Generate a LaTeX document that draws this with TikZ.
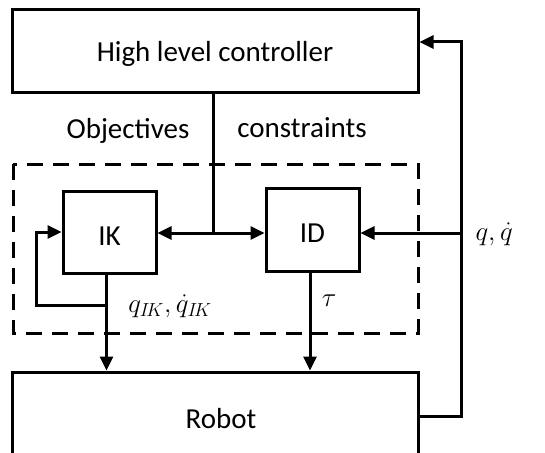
\documentclass[tikz,border=0pt]{standalone}
\usepackage{fix-cm}
\usepackage{fontspec}
\setmainfont{Carlito}
\usetikzlibrary{arrows.meta}
\begin{document}
\begin{tikzpicture}[x=1pt,y=-1pt,
  line width=3pt,
  every node/.style={font=\fontsize{29}{34}\selectfont,text depth=0pt},
  block/.style={draw,line width=3pt,inner sep=0pt},
  arr/.style={-{Triangle[length=14pt,width=13pt]}},
  darr/.style={{Triangle[length=14pt,width=13pt]}-{Triangle[length=14pt,width=13pt]}},
  lbl/.style={inner sep=0pt},
  mathlbl/.style={inner sep=0pt,font=\fontsize{27}{32}\selectfont}]
\useasboundingbox (0,0) rectangle (545,452);
\clip (0,0) rectangle (545,452);

% blocks
\node[block,minimum width=406pt,minimum height=82pt] (hlc) at (215,51) {High level controller};
\node[block,minimum width=93pt,minimum height=82pt,text height=26pt] (ik) at (109.5,232) {IK};
\node[block,minimum width=93pt,minimum height=83pt,text height=24pt] (id) at (312.5,230) {ID};
\node[block,minimum width=406pt,minimum height=88pt] (robot) at (215,416) {};
\node[lbl] (robottext) at (221,418) {Robot};

% dashed group around IK and ID
\draw[dash pattern=on 16pt off 10pt] (13,164) rectangle (418,333);

% labels
\node[lbl] (obj) at (128,128) {Objectives};
\node[lbl] (con) at (302,128) {constraints};
\node[mathlbl,anchor=west] (qin) at (474,232) {$q,\dot q$};
\node[mathlbl] (qik) at (170,304) {$q_{I\!K},\dot q_{I\!K}$};
\node[mathlbl] (tau) at (329,301) {$\tau$};

% objectives/constraints distribution
\coordinate (j) at (213,233);
\draw (j |- hlc.south) -- (j);
\draw[darr] (j -| ik.east) -- (j -| id.west);

% feedback from the robot to the controller and to ID
\coordinate (fb) at (461,42);
\draw[arr] (robot.east) -| (fb) -- (fb -| hlc.east);
\draw[arr] (fb |- j) -- (j -| id.east);

% IK output and its loop back
\coordinate (ikout) at ([xshift=-3pt]ik.south);
\draw[arr] (ikout) -- (ikout |- robot.north);
\coordinate (loop) at (36,305);
\draw[arr] (loop -| ikout) -- (loop) |- (ik.west);

% ID output
\coordinate (idout) at ([xshift=-2.5pt]id.south);
\draw[arr] (idout) -- (idout |- robot.north);
\end{tikzpicture}
\end{document}
